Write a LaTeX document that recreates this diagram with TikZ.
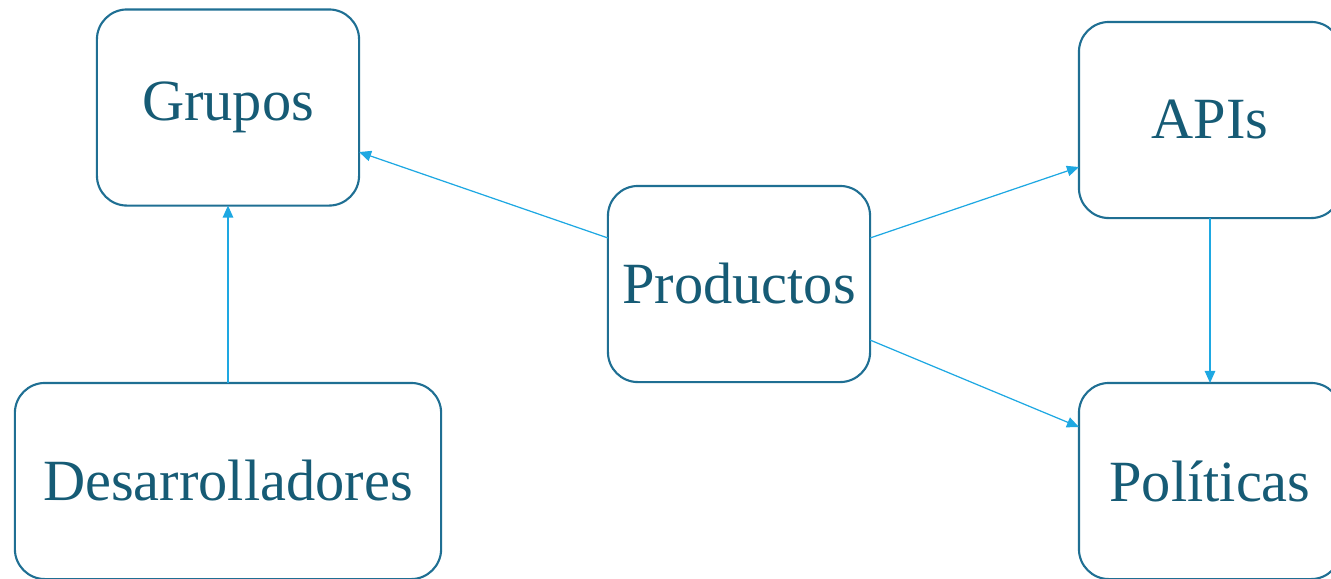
\documentclass[tikz,border=0pt]{standalone}
\usepackage{fontspec}
\setmainfont{Liberation Serif}
\usetikzlibrary{arrows.meta}
\definecolor{boxline}{HTML}{1F6F93}
\definecolor{boxtext}{HTML}{165B75}
\definecolor{linkblue}{HTML}{1EA8E2}
\tikzset{
  topic/.style={draw=boxline,line width=0.6pt,rounded corners=0.3cm,
    minimum width=2.62cm,minimum height=1.96cm,inner sep=0pt,outer sep=0pt,
    text=boxtext,font=\fontsize{16.6}{20}\selectfont},
  link/.style={draw=linkblue,line width=0.35pt,-{Triangle[length=1.2mm,width=1.05mm]}}
}
\begin{document}
\begin{tikzpicture}[x=0.01cm,y=-0.01cm]
\useasboundingbox (0,0) rectangle (1331,578);

% boxes, at pixel positions of the layout
\node[topic] (grupos) at (228,107.5) {Grupos};
\node[topic,minimum width=4.26cm] (desarr) at (228,481) {Desarrolladores};
\node[topic] (productos) at (739,284) {Productos};
\node[topic] (apis) at (1210,120) {APIs};
\node[topic] (politicas) at (1210,481) {Políticas};

% links
\draw[link] ([yshift=0.46cm]productos.west) -- ([yshift=-0.445cm]grupos.east);
\draw[link] ([yshift=0.46cm]productos.east) -- ([yshift=-0.47cm]apis.west);
\draw[link] ([yshift=-0.56cm]productos.east) -- ([yshift=0.54cm]politicas.west);
\draw[link] (apis.south) -- (politicas.north);
\draw[link] (desarr.north) -- (grupos.south);
\end{tikzpicture}
\end{document}
